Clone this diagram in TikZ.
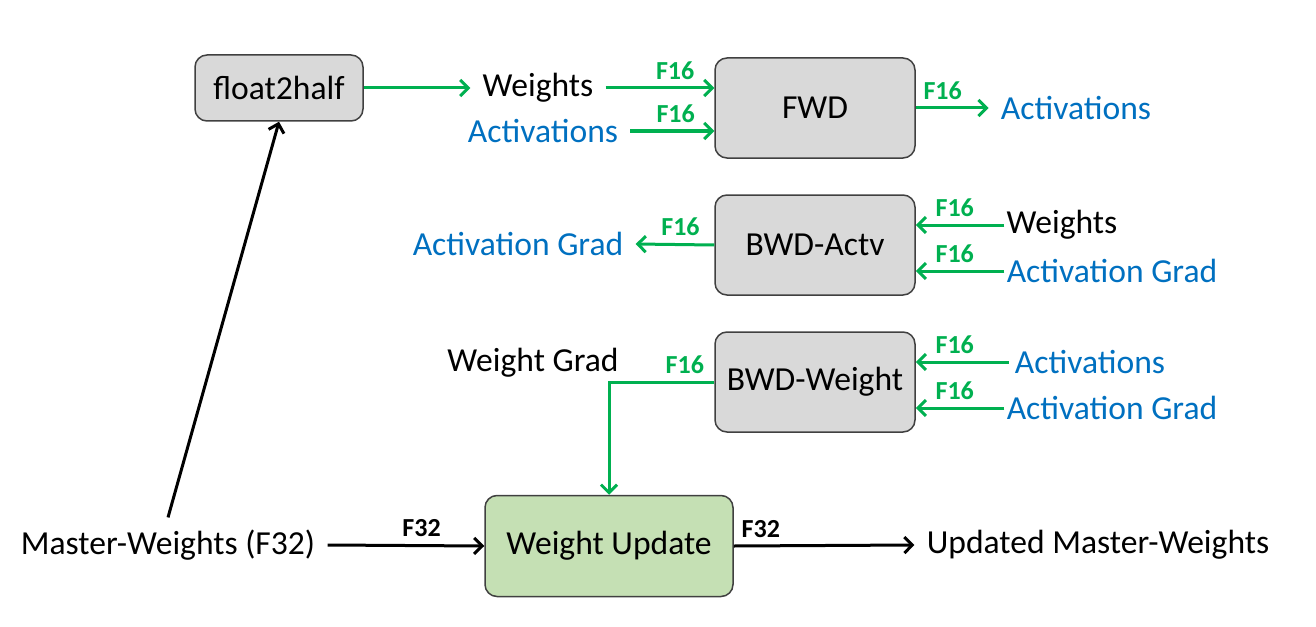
\documentclass[tikz,border=0pt]{standalone}
\usepackage{fontspec}
\setmainfont{Carlito}
\usetikzlibrary{arrows.meta}
\definecolor{fgreen}{HTML}{00B050}
\definecolor{fblue}{HTML}{0070C0}
\definecolor{boxgray}{HTML}{D9D9D9}
\definecolor{boxgreen}{HTML}{C5E0B4}
\definecolor{boxline}{HTML}{404040}
\begin{document}
\begin{tikzpicture}[x=0.5pt, y=-0.5pt,
  op/.style = {draw=boxline, line width=0.75pt, fill=boxgray, rounded corners=6pt,
    minimum width=100pt, minimum height=50pt, font=\fontsize{16.8}{20}\selectfont},
  txt/.style = {inner sep=6pt, font=\fontsize{16.8}{20}\selectfont},
  blu/.style = {txt, text=fblue},
  flab/.style = {above, inner sep=3.5pt, font=\fontsize{13}{15}\selectfont\bfseries, text=fgreen},
  klab/.style = {flab, text=black},
  garr/.style = {draw=fgreen, line width=1.5pt, -{Straight Barb[length=4pt,width=8pt]}},
  karr/.style = {draw=black, line width=1.5pt, -{Straight Barb[length=4pt,width=8pt]}}]
\useasboundingbox (0,0) rectangle (1316,626);

% boxes
\node[op, minimum width=84pt, minimum height=33pt] (f2h) at (279,88) {float2half};
\node[op] (fwd) at (815,108) {FWD};
\node[op] (bwda) at (815,245) {BWD-Actv};
\node[op] (bwdw) at (815,382) {BWD-Weight};
\node[op, fill=boxgreen, minimum width=124pt, minimum height=50.5pt] (wu) at (609,546) {Weight Update};

% texts
\node[txt] (fw) at (538,88) {Weights};
\node[blu] (fa) at (543,131) {Activations};
\node[blu] (fo) at (1076,108) {Activations};
\node[txt, inner xsep=1pt] (aw) at (1062,225) {Weights};
\node[blu, inner xsep=1pt] (ag) at (1112,271) {Activation Grad};
\node[blu] (ao) at (518,244) {Activation Grad};
\node[blu, inner xsep=3pt] (wa) at (1090,362) {Activations};
\node[blu, inner xsep=1pt] (wg) at (1112,408) {Activation Grad};
\node[txt] (wo) at (533,363) {Weight Grad};
\node[txt] (mw) at (168,545) {Master-Weights (F32)};
\node[txt] (um) at (1098,545) {Updated Master-Weights};

% arrows
\draw[garr] (f2h.east) -- (fw.west);
\draw[garr] (fw.east) -- node[flab, pos=.64] {F16} (fw.east -| fwd.west);
\draw[garr] (fa.east) -- node[flab, pos=.54] {F16} (fa.east -| fwd.west);
\draw[garr] (fwd.east) -- node[flab, pos=.37] {F16} (fo.west);
\draw[garr] (aw.west) -- node[flab, pos=.56] {F16} (aw.west -| bwda.east);
\draw[garr] (ag.west) -- node[flab, pos=.56] {F16} (ag.west -| bwda.east);
\draw[garr] (bwda.west) -- node[flab, pos=.43] {F16} (ao.east);
\draw[garr] (wa.west) -- node[flab, pos=.58] {F16} (wa.west -| bwdw.east);
\draw[garr] (wg.west) -- node[flab, pos=.56] {F16} (wg.west -| bwdw.east);
\draw[garr] (bwdw.west) -| node[flab, pos=.14] {F16} (wu.north);
\draw[karr] (mw.east) -- node[klab, pos=.6] {F32} (wu.west);
\draw[karr] (wu.east) -- node[klab, pos=.15] {F32} (um.west);
\draw[karr] (mw.north) -- (f2h.south);
\end{tikzpicture}
\end{document}
